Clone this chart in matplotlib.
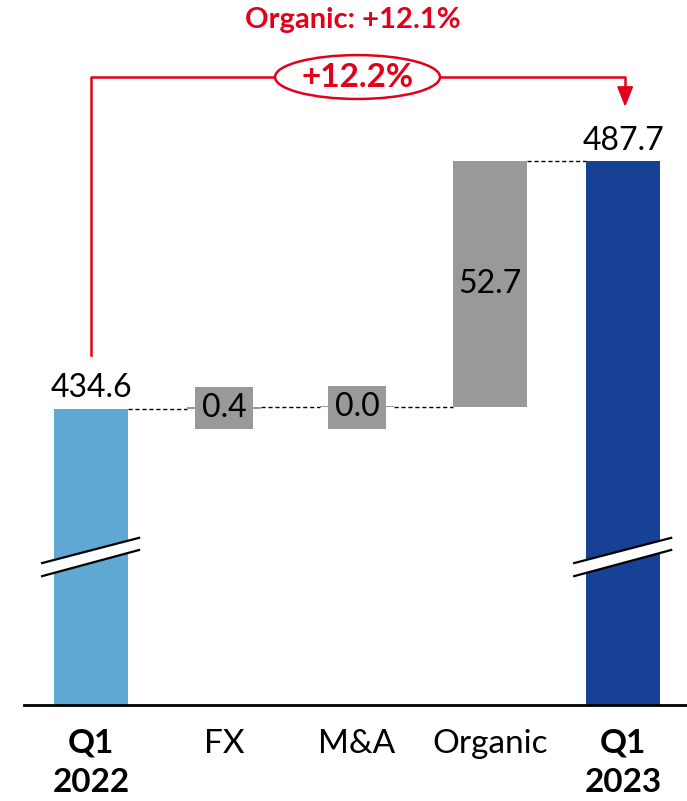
import matplotlib
matplotlib.use("Agg")
import matplotlib.pyplot as plt
from matplotlib.patches import Ellipse, Polygon

plt.rcParams['font.family'] = ['Lato', 'DejaVu Sans']

# ---- data --------------------------------------------------------------
categories = ["Q1\n2022", "FX", "M&A", "Organic", "Q1\n2023"]
bold_cat   = [True, False, False, False, True]
start_val  = 434.6
deltas     = [0.4, 0.0, 52.7]
end_val    = 487.7
growth_lbl = "+12.2%"
organic_lbl = "Organic: +12.1%"

LIGHT_BLUE = "#5FA8D3"
DARK_BLUE  = "#164194"
GREY       = "#999999"
RED        = "#E2001A"

y_floor = 371.2          # broken axis: bars start here
y_top   = 522.2
width   = 0.56

fig = plt.figure(figsize=(6.87, 8.01), dpi=100)
ax = fig.add_axes([24 / 687, 96 / 801, 663 / 687, 705 / 801])
ax.set_xlim(-0.504, 4.48)
ax.set_ylim(y_floor, y_top)

# totals
ax.bar(0, start_val - y_floor, bottom=y_floor, width=width, color=LIGHT_BLUE, zorder=2)
ax.bar(4, end_val - y_floor, bottom=y_floor, width=width, color=DARK_BLUE, zorder=2)

# deltas
level = start_val
tops = [start_val]
for i, d in enumerate(deltas, start=1):
    h = d if d > 0 else 0.15
    ax.bar(i, h, bottom=level, width=width, color=GREY, zorder=2)
    mid = level + d / 2
    if d < 5:
        ax.text(i, mid, f"{d:.1f}", ha='center', va='center', fontsize=23, zorder=4,
                bbox=dict(boxstyle='square,pad=0.2', fc=GREY, ec='none'))
    else:
        ax.text(i, mid, f"{d:.1f}", ha='center', va='center', fontsize=23, zorder=4)
    level += d
    tops.append(level)
tops.append(end_val)

# dashed connectors
for i in range(4):
    ax.plot([i + width / 2, i + 1 - width / 2], [tops[i], tops[i]],
            color='black', lw=1.0, ls=(0, (3, 2)), zorder=1)

# total labels
ax.annotate(f"{start_val:.1f}", (0, start_val), xytext=(0, 4), textcoords='offset points',
            ha='center', va='bottom', fontsize=23)
ax.annotate(f"{end_val:.1f}", (4, end_val), xytext=(0, 4), textcoords='offset points',
            ha='center', va='bottom', fontsize=23)

# axis break marks on the total bars
for xc in (0, 4):
    x0, x1 = xc - 0.368, xc + 0.361
    band = Polygon([[x0, 401.6], [x1, 407.0], [x1, 404.4], [x0, 398.8]],
                   closed=True, fc='white', ec='none', zorder=3)
    ax.add_patch(band)
    ax.plot([x0, x1], [401.6, 407.0], color='black', lw=1.6, zorder=3)
    ax.plot([x0, x1], [398.8, 404.4], color='black', lw=1.6, zorder=3)

# growth bracket
y_br = 505.7
ax.plot([0, 0, 1.383], [446.1, y_br, y_br], color=RED, lw=1.8, zorder=3)
ax.plot([2.624, 4.015, 4.015], [y_br, y_br, 503.3], color=RED, lw=1.8, zorder=3)
ax.add_patch(Polygon([[3.96, 503.6], [4.07, 503.6], [4.015, 499.7]],
                     closed=True, fc=RED, ec=RED, zorder=3))
ax.add_patch(Ellipse((2.003, y_br), 1.24, 9.4, fc='white', ec=RED, lw=1.8, zorder=3))
ax.text(2.003, y_br, growth_lbl, ha='center', va='center', fontsize=24,
        fontweight='bold', color=RED, zorder=4)
ax.text(1.97, 517.9, organic_lbl, ha='center', va='center', fontsize=21,
        fontweight='bold', color=RED)

# axes styling
for s in ('top', 'right', 'left'):
    ax.spines[s].set_visible(False)
ax.spines['bottom'].set_linewidth(2)
ax.set_yticks([])
ax.set_xticks(range(len(categories)))
ax.set_xticklabels(categories, fontsize=24, linespacing=1.45)
for lbl, b in zip(ax.get_xticklabels(), bold_cat):
    if b:
        lbl.set_fontweight('bold')
ax.tick_params(axis='x', length=0, pad=17)

plt.savefig('out.png', dpi=100)
